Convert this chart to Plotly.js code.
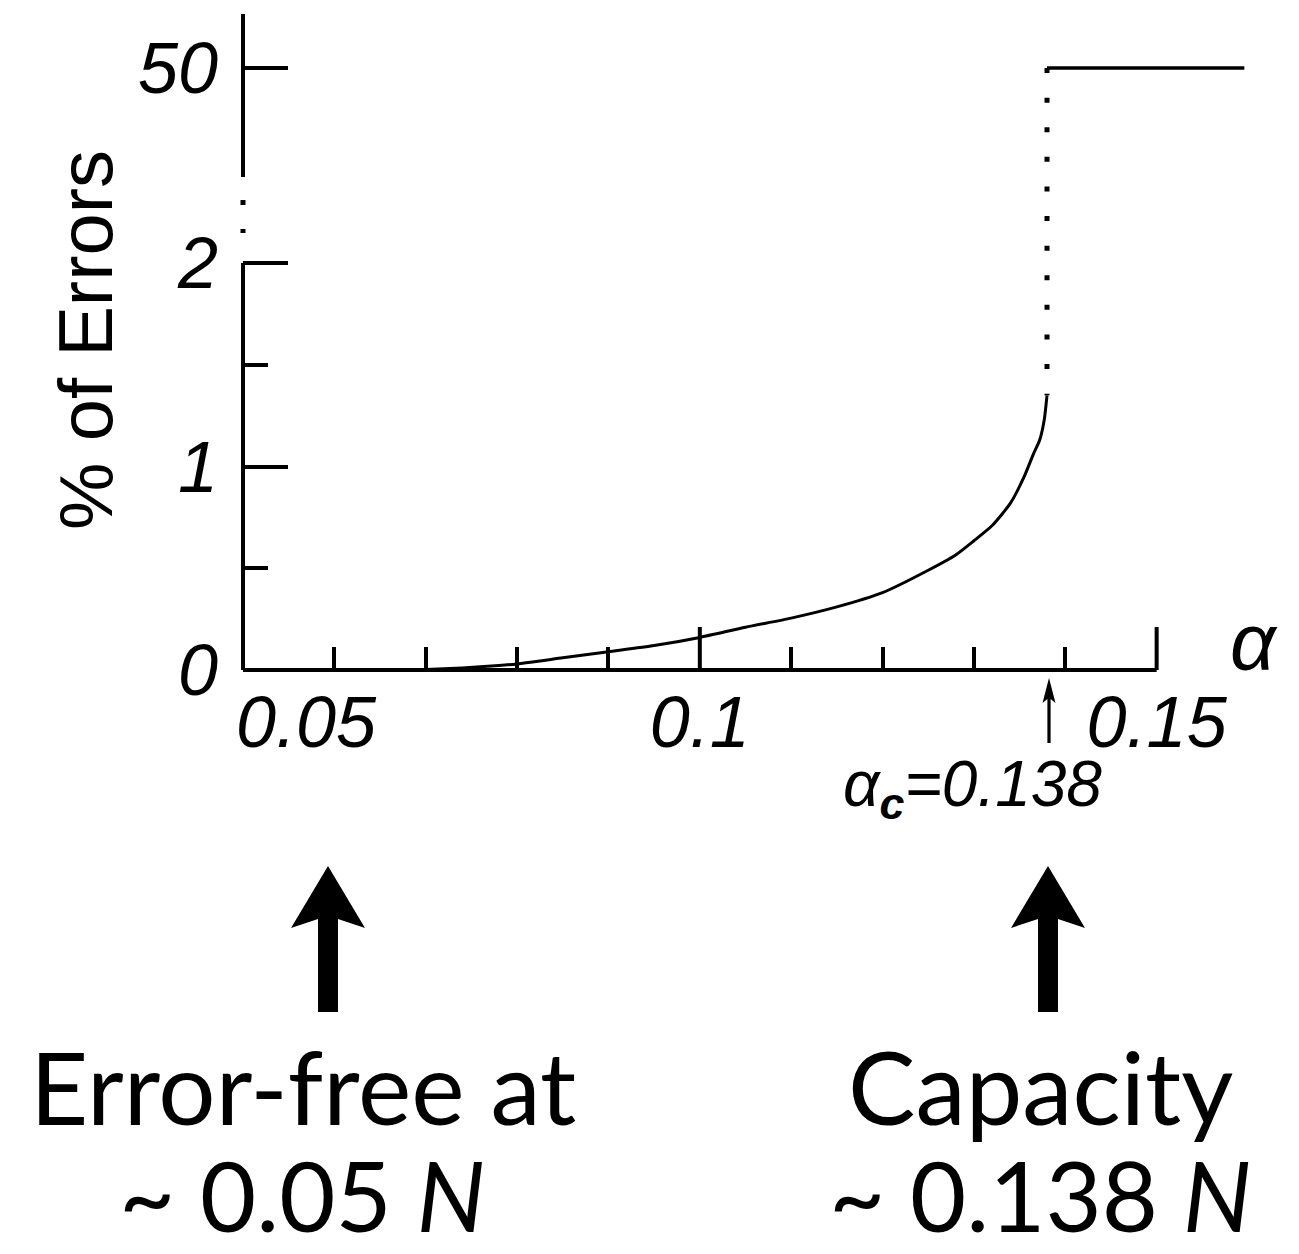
<!DOCTYPE html>
<html><head><meta charset="utf-8">
<script src="https://cdn.plot.ly/plotly-3.0.1.min.js"></script>
<style>html,body{margin:0;padding:0;background:#fff}</style>
</head><body>
<div id="chart" style="width:1299px;height:1254px"></div>
<script>
// ---- data ----
const alpha    = [0.066, 0.070, 0.074, 0.078, 0.080, 0.085, 0.090, 0.095, 0.100, 0.105, 0.110, 0.115, 0.120, 0.125, 0.128, 0.130, 0.132, 0.134, 0.1355, 0.1365, 0.1372, 0.1377, 0.1380];
const errorPct = [0.0,   0.003, 0.010, 0.022, 0.030, 0.060, 0.090, 0.120, 0.160, 0.210, 0.255, 0.310, 0.380, 0.490, 0.565, 0.635, 0.710, 0.820, 0.950, 1.060, 1.130, 1.230, 1.350];
const alphaC   = 0.138;      // capacity
const plateauPct = 50;       // % of errors above capacity
const plateauEnd = 0.1596;   // last alpha of the plateau line

const xTickVals  = [0.05, 0.1, 0.15];
const xTickText  = ["0.05", "0.1", "0.15"];
const xMinorVals = [0.06, 0.07, 0.08, 0.09, 0.11, 0.12, 0.13, 0.14];
const yTickVals  = [0, 1, 2, 50];
const yTickText  = ["0", "1", "2", "50"];
const yMinorVals = [0.5, 1.5];

// broken y axis: 0..2 linear, then a jump to 50
const BREAK = 2, TOP_POS = 2.958;
const ypos = v => v <= BREAK ? v : BREAK + (v - BREAK) * (TOP_POS - BREAK) / (plateauPct - BREAK);

// ---- layout helpers ----
const ML = 243, MR = 51, MT = 10, MB = 584, W = 1299, H = 1254;
const PW = W - ML - MR, PH = H - MT - MB;
const PX_PER_X = 9140, PX_PER_Y = 203.5, Y0PX = 670;
const xAt = px => 0.05 + (px - ML) / PX_PER_X;
const yAt = py => (Y0PX - py) / PX_PER_Y;
const px2paperX = px => (px - ML) / PW;
const px2paperY = py => (H - MB - py) / PH;

const black = '#000';
const traces = [
  {x: alpha, y: errorPct.map(ypos), mode: 'lines', line: {color: black, width: 3, shape: 'spline', smoothing: 0.6}, hoverinfo: 'skip', cliponaxis: false},
  {x: [alphaC, alphaC], y: [ypos(plateauPct), ypos(errorPct[errorPct.length - 1])], mode: 'lines',
   line: {color: black, width: 5, dash: '5px,24.6px'}, hoverinfo: 'skip', cliponaxis: false},
  {x: [alphaC, plateauEnd], y: [ypos(plateauPct), ypos(plateauPct)], mode: 'lines',
   line: {color: black, width: 3.5}, hoverinfo: 'skip', cliponaxis: false}
];

const xLabelPos = xTickVals.map(v => v === 0.05 ? xAt(306) : v);

// filled arrow polygon in paper coordinates (pixel geometry)
function arrowPath(cx, tipY, tailY, headHalfW, wingY, notchY, shaftHalfW) {
  const P = (px, py) => px2paperX(px) + ',' + px2paperY(py);
  return 'M' + P(cx, tipY) + ' L' + P(cx + headHalfW, wingY) + ' L' + P(cx + shaftHalfW, notchY) +
         ' L' + P(cx + shaftHalfW, tailY) + ' L' + P(cx - shaftHalfW, tailY) + ' L' + P(cx - shaftHalfW, notchY) +
         ' L' + P(cx - headHalfW, wingY) + ' Z';
}
const arrowShape = d => ({type: 'path', xref: 'paper', yref: 'paper', path: d, fillcolor: black, line: {width: 0}});

const axisLine = {color: black, width: 4};
const shapes = [
  {type: 'line', xref: 'x', yref: 'y domain', x0: 0.05, x1: 0.15, y0: 0, y1: 0, line: axisLine},
  {type: 'line', xref: 'x domain', yref: 'y', x0: 0, x1: 0, y0: 0, y1: 2, line: axisLine},
  {type: 'line', xref: 'x domain', yref: 'y', x0: 0, x1: 0, y0: yAt(200), y1: yAt(233), line: {color: black, width: 5, dash: '5px,24px'}},
  {type: 'line', xref: 'x domain', yref: 'y', x0: 0, x1: 0, y0: yAt(177), y1: yAt(14), line: axisLine},
  {type: 'line', xref: 'x', yref: 'y', x0: 0.1, x1: 0.1, y0: 0, y1: 43 / PX_PER_Y, line: axisLine},
  {type: 'line', xref: 'x', yref: 'y', x0: 0.15, x1: 0.15, y0: 0, y1: 43 / PX_PER_Y, line: axisLine},
  // small arrow under alpha_c
  arrowShape(arrowPath(1049, 678, 743, 6.5, 703, 699, 1.6)),
  // big arrows
  arrowShape(arrowPath(328, 866, 1012, 37, 928, 919, 10)),
  arrowShape(arrowPath(1048, 866, 1012, 37, 928, 919, 10))
];

const helv = 'Liberation Sans, Arial, Helvetica, sans-serif';
const gill = 'Lato, Open Sans, sans-serif';
const ann = (px, py, extra) => Object.assign({x: px2paperX(px), y: px2paperY(py), xref: 'paper', yref: 'paper',
  showarrow: false, xanchor: 'center', yanchor: 'middle', borderpad: 0}, extra);
const annotations = [
  ann(1254, 641, {text: 'α', font: {family: helv, size: 80, style: 'italic', color: black}}),
  ann(972, 788, {text: 'α<sub><b>c</b></sub>=0.138', font: {family: helv, size: 64, style: 'italic', color: black}}),
  ann(303, 1086, {text: 'Error-free at', font: {family: gill, size: 101, color: black}}),
  ann(302, 1194, {text: '~ 0.05 <i>N</i>', font: {family: gill, size: 97, color: black}}),
  ann(1040, 1086, {text: 'Capacity', font: {family: gill, size: 101, color: black}}),
  ann(1040, 1194, {text: '~ 0.138 <i>N</i>', font: {family: gill, size: 97, color: black}})
];

const layout = {
  width: W, height: H,
  margin: {l: ML, r: MR, t: MT, b: MB, pad: 0},
  paper_bgcolor: '#fff', plot_bgcolor: '#fff',
  showlegend: false,
  font: {family: helv, color: black},
  xaxis: {
    range: [0.05, 0.16], showline: false, showgrid: false, zeroline: false, fixedrange: true,
    tickmode: 'array', tickvals: xLabelPos, ticktext: xTickText, ticks: '',
    tickfont: {family: helv, size: 72, style: 'italic', color: black}, ticklabelstandoff: 4,
    minor: {tickmode: 'array', tickvals: xMinorVals, ticks: 'inside', ticklen: 23, tickwidth: 4, tickcolor: black, showgrid: false}
  },
  yaxis: {
    range: [0, yAt(MT)], showline: false, showgrid: false, zeroline: false, fixedrange: true,
    tickmode: 'array', tickvals: yTickVals.map(ypos), ticktext: yTickText,
    ticks: 'inside', ticklen: 45, tickwidth: 4, tickcolor: black,
    tickfont: {family: helv, size: 72, style: 'italic', color: black}, ticklabelstandoff: 24,
    minor: {tickmode: 'array', tickvals: yMinorVals, ticks: 'inside', ticklen: 25, tickwidth: 4, tickcolor: black, showgrid: false},
    title: {text: '% of Errors', font: {family: helv, size: 76, color: black}, standoff: 0}
  },
  shapes: shapes,
  annotations: annotations
};

Plotly.newPlot('chart', traces, layout, {displayModeBar: false, staticPlot: true});
</script>
</body></html>
